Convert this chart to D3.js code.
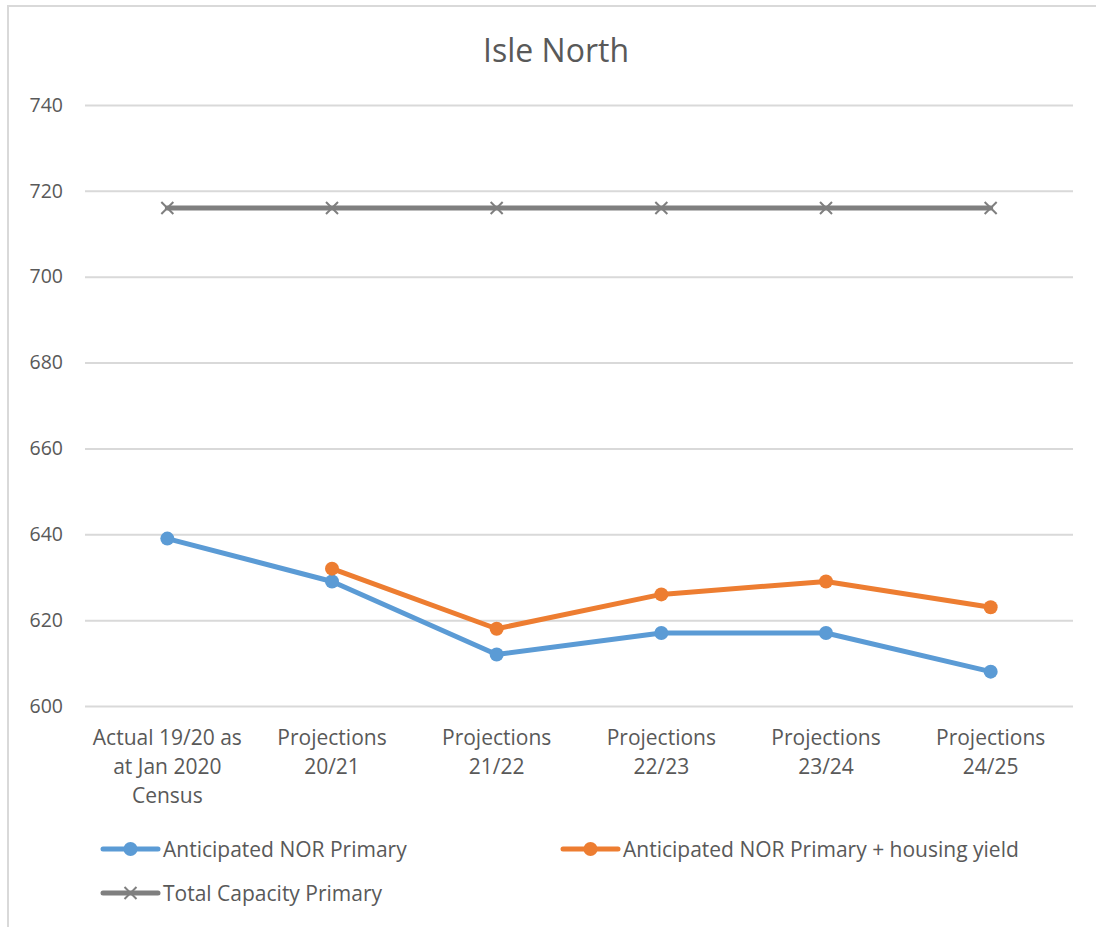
<!doctype html>
<html>
<head>
  <meta charset="utf-8">
  <script src="https://cdnjs.cloudflare.com/ajax/libs/d3/7.8.5/d3.min.js"></script>
  <style>
    body { margin: 0; background: white; }
    text { font-family: 'Open Sans', 'Lato', sans-serif; fill: #595959; }
  </style>
</head>
<body>
  <script>
    const categories = [
      ['Actual 19/20 as', 'at Jan 2020', 'Census'],
      ['Projections', '20/21'],
      ['Projections', '21/22'],
      ['Projections', '22/23'],
      ['Projections', '23/24'],
      ['Projections', '24/25']
    ];
    const norPrimary = [639, 629, 612, 617, 617, 608];
    const norHousing = [null, 632, 618, 626, 629, 623];
    const capacity = [716, 716, 716, 716, 716, 716];
    const yTicks = [600, 620, 640, 660, 680, 700, 720, 740];

    const series = [
      {name: 'Anticipated NOR Primary', values: norPrimary, color: '#5b9bd5', marker: 'circle'},
      {name: 'Anticipated NOR Primary + housing yield', values: norHousing, color: '#ed7d31', marker: 'circle'},
      {name: 'Total Capacity Primary', values: capacity, color: '#7f7f7f', marker: 'x'}
    ];

    const width = 1096, height = 927;
    const plot = {left: 85, right: 1073, top: 105, bottom: 706};

    const svg = d3.select('body').append('svg')
      .attr('width', width)
      .attr('height', height);

    // chart frame
    svg.append('path')
      .attr('d', `M8,${height} L8,6 L${width},6`)
      .attr('fill', 'none')
      .attr('stroke', '#d9d9d9')
      .attr('stroke-width', 2);

    svg.append('text')
      .attr('x', 556).attr('y', 62)
      .attr('text-anchor', 'middle')
      .style('font-size', '32px')
      .text('Isle North');

    const x = d3.scalePoint()
      .domain(d3.range(categories.length))
      .range([plot.left, plot.right])
      .padding(0.5);

    const y = d3.scaleLinear()
      .domain([600, 740])
      .range([plot.bottom, plot.top]);

    // gridlines + y labels
    const yAxis = d3.axisLeft(y)
      .tickValues(yTicks)
      .tickSize(-(plot.right - plot.left))
      .tickPadding(22);
    const gy = svg.append('g')
      .attr('transform', `translate(${plot.left},0)`)
      .call(yAxis);
    gy.select('.domain').remove();
    gy.selectAll('line').attr('stroke', '#d9d9d9').attr('stroke-width', 2);
    gy.selectAll('text').style('font-size', '19.5px').attr('fill', '#595959');

    // x labels
    const gx = svg.append('g');
    categories.forEach((lines, i) => {
      const t = gx.append('text')
        .attr('x', x(i))
        .attr('y', 745)
        .attr('text-anchor', 'middle')
        .style('font-size', '21px');
      lines.forEach((l, j) => {
        t.append('tspan').attr('x', x(i)).attr('dy', j === 0 ? 0 : 29).text(l);
      });
    });

    const line = d3.line()
      .defined(d => d != null)
      .x((d, i) => x(i))
      .y(d => y(d));

    function drawMarker(g, type, cx, cy, color) {
      if (type === 'circle') {
        g.append('circle')
          .attr('cx', cx).attr('cy', cy).attr('r', 7)
          .attr('fill', color);
      } else {
        const s = 6;
        g.append('path')
          .attr('d', `M${cx - s},${cy - s}L${cx + s},${cy + s}M${cx - s},${cy + s}L${cx + s},${cy - s}`)
          .attr('stroke', color)
          .attr('stroke-width', 2)
          .attr('fill', 'none');
      }
    }

    // draw capacity first, then the two NOR series
    [series[2], series[0], series[1]].forEach(s => {
      const g = svg.append('g');
      g.append('path')
        .datum(s.values)
        .attr('d', line)
        .attr('fill', 'none')
        .attr('stroke', s.color)
        .attr('stroke-width', 5)
        .attr('stroke-linejoin', 'round')
        .attr('stroke-linecap', 'round');
      s.values.forEach((v, i) => {
        if (v != null) drawMarker(g, s.marker, x(i), y(v), s.color);
      });
    });

    // legend
    const legendPos = [
      {x: 103, y: 849},
      {x: 563, y: 849},
      {x: 103, y: 893}
    ];
    series.forEach((s, i) => {
      const p = legendPos[i];
      const g = svg.append('g');
      g.append('line')
        .attr('x1', p.x).attr('x2', p.x + 55)
        .attr('y1', p.y).attr('y2', p.y)
        .attr('stroke', s.color)
        .attr('stroke-width', 5)
        .attr('stroke-linecap', 'round');
      drawMarker(g, s.marker, p.x + 27.5, p.y, s.color);
      g.append('text')
        .attr('x', p.x + 60).attr('y', p.y + 7.5)
        .style('font-size', '21px')
        .text(s.name);
    });
  </script>
</body>
</html>
